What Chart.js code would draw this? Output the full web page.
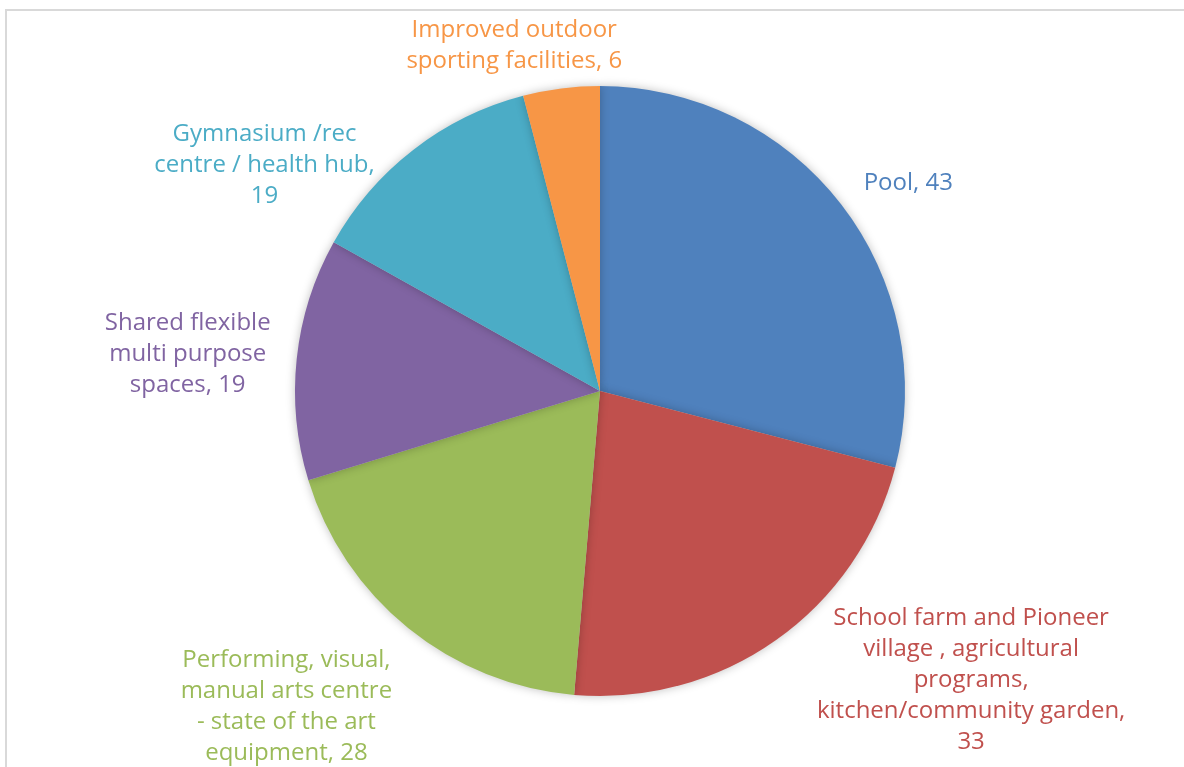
<!DOCTYPE html>
<html>
<head>
<meta charset="utf-8">
<script src="https://cdn.jsdelivr.net/npm/chart.js@4/dist/chart.umd.min.js"></script>
<style>
  html, body { margin: 0; padding: 0; background: #fff; }
  #wrap { width: 1184px; height: 767px; position: relative; }
</style>
</head>
<body>
<div id="wrap"><canvas id="pie"></canvas></div>
<script>
const categories = [
    ["Pool, 43"],
    ["School farm and Pioneer", "village , agricultural", "programs,", "kitchen/community garden,", "33"],
    ["Performing, visual,", "manual arts centre", "- state of the art", "equipment, 28"],
    ["Shared flexible", "multi purpose", "spaces, 19"],
    ["Gymnasium /rec", "centre / health hub,", "19"],
    ["Improved outdoor", "sporting facilities, 6"]
];
const counts = [43, 33, 28, 19, 19, 6];
const sliceColors = ['#4F81BD', '#C0504D', '#9BBB59', '#8064A2', '#4BACC6', '#F79646'];
// label shift from the slice's outer edge, in px
const labelShift = [[67, -21], [195, 40], [-122, 78], [-109, -5], [-149, 15], [-47, -43]];

const labelFont = '24px "Open Sans", "DejaVu Sans", sans-serif';

// grey frame along the top and left edges
const framePlugin = {
    id: 'frame',
    beforeDraw(chart) {
        const ctx = chart.ctx;
        ctx.save();
        ctx.strokeStyle = '#d9d9d9';
        ctx.lineWidth = 2;
        ctx.beginPath();
        ctx.moveTo(6, chart.height);
        ctx.lineTo(6, 10);
        ctx.lineTo(chart.width, 10);
        ctx.stroke();
        ctx.restore();
    }
};

// soft shadow under the pie
const shadowPlugin = {
    id: 'pieShadow',
    beforeDatasetDraw(chart) {
        const ctx = chart.ctx;
        ctx.save();
        ctx.shadowColor = 'rgba(0,0,0,0.25)';
        ctx.shadowBlur = 10;
    },
    afterDatasetDraw(chart) {
        chart.ctx.restore();
    }
};

// multi-line labels outside each slice, coloured like the slice
const outsideLabels = {
    id: 'outsideLabels',
    afterDatasetsDraw(chart) {
        const ctx = chart.ctx;
        const arcs = chart.getDatasetMeta(0).data;
        const lineH = 31;
        ctx.save();
        ctx.font = labelFont;
        ctx.textAlign = 'center';
        ctx.textBaseline = 'middle';
        arcs.forEach((arc, i) => {
            const p = arc.getProps(['x', 'y', 'startAngle', 'endAngle', 'outerRadius'], true);
            const mid = (p.startAngle + p.endAngle) / 2;
            const ax = p.x + Math.cos(mid) * p.outerRadius + labelShift[i][0];
            const ay = p.y + Math.sin(mid) * p.outerRadius + labelShift[i][1];
            const lines = categories[i];
            const top = ay - (lines.length - 1) * lineH / 2;
            ctx.fillStyle = sliceColors[i];
            lines.forEach((t, k) => ctx.fillText(t, ax, top + k * lineH));
        });
        ctx.restore();
    }
};

new Chart(document.getElementById('pie'), {
    type: 'pie',
    plugins: [framePlugin, shadowPlugin, outsideLabels],
    data: {
        labels: categories.map(l => l.join(' ')),
        datasets: [{
            data: counts,
            backgroundColor: sliceColors,
            borderWidth: 0,
            hoverOffset: 0
        }]
    },
    options: {
        responsive: true,
        maintainAspectRatio: false,
        animation: false,
        layout: { padding: { left: 16, right: 0, top: 86, bottom: 71 } },
        plugins: {
            legend: { display: false },
            tooltip: { enabled: false }
        }
    }
});
</script>
</body>
</html>
